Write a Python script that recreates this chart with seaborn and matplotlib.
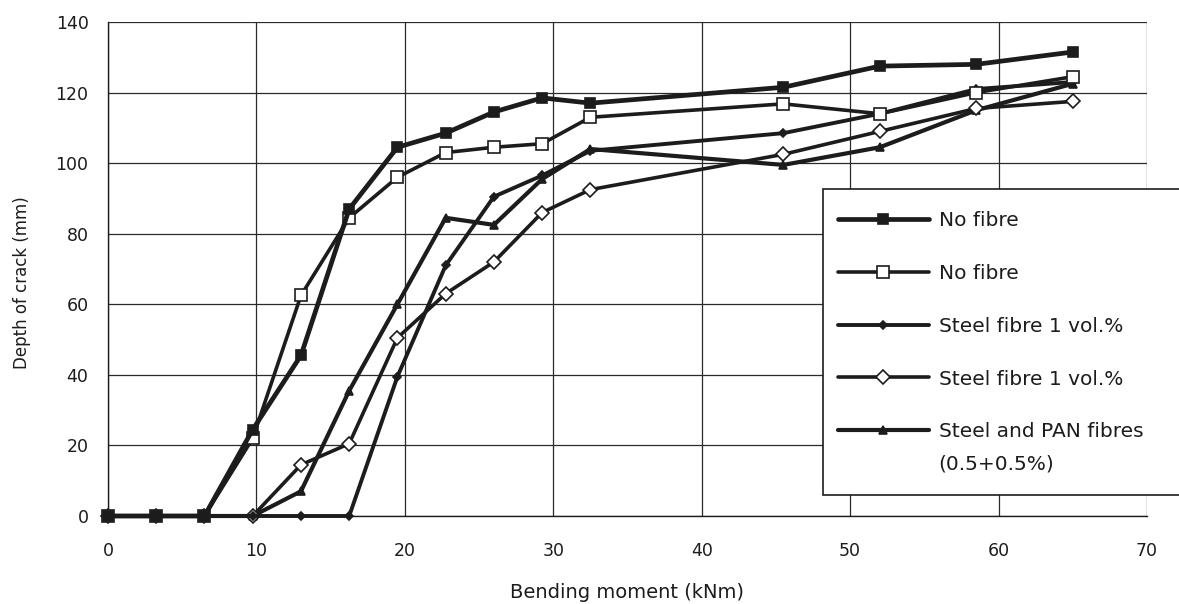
import numpy as np
import pandas as pd
import seaborn as sns
import matplotlib.pyplot as plt
from matplotlib.lines import Line2D
from matplotlib.patches import Rectangle

# Bending moment steps (kNm)
moment = [0, 3.25, 6.5, 9.75, 13, 16.25, 19.5, 22.75, 26, 29.25, 32.5, 45.5, 52, 58.5, 65]

# Depth of crack (mm) for each beam
no_fibre_a = [0, 0, 0, 24.5, 45.5, 87, 104.5, 108.5, 114.5, 118.5, 117, 121.5, 127.5, 128, 131.5]
no_fibre_b = [0, 0, 0, 22, 62.5, 84.5, 96, 103, 104.5, 105.5, 113, 116.8, 114, 120, 124.5]
steel_a = [0, 0, 0, 0, 0, 0, 39.5, 71, 90.5, 96.5, 103.5, 108.5, 114, 121, 123]
steel_b = [0, 0, 0, 0, 14.5, 20.5, 50.5, 63, 72, 86, 92.5, 102.5, 109, 115.5, 117.5]
steel_pan = [0, 0, 0, 0, 7, 35.5, 60, 84.5, 82.5, 95.5, 104, 99.5, 104.5, 115, 122.5]

labels = ["No fibre", "No fibre", "Steel fibre 1 vol.%", "Steel fibre 1 vol.%",
          "Steel and PAN fibres"]
label_extra = "(0.5+0.5%)"

x_ticks = [0, 10, 20, 30, 40, 50, 60, 70]
y_ticks = [0, 20, 40, 60, 80, 100, 120, 140]

sns.set_theme(style="white")
plt.rcParams['font.family'] = ['DejaVu Sans']

ink = "#1c1c1c"
W, H = 1179, 604
fig = plt.figure(figsize=(W / 100, H / 100), dpi=100)
ax = fig.add_axes([108 / W, 88 / H, (1147 - 108) / W, (516 - 22) / H])

styles = [
    dict(marker="s", markersize=7, markerfacecolor=ink, lw=3.4),
    dict(marker="s", markersize=9, markerfacecolor="white", lw=2.6),
    dict(marker="D", markersize=4, markerfacecolor=ink, lw=2.8),
    dict(marker="D", markersize=7, markerfacecolor="white", lw=2.6),
    dict(marker="^", markersize=6, markerfacecolor=ink, lw=3.0),
]
series = [no_fibre_a, no_fibre_b, steel_a, steel_b, steel_pan]

df = pd.DataFrame({"moment": moment})
for i, vals in enumerate(series):
    df[f"s{i}"] = vals

handles = []
for i, st in enumerate(styles):
    sns.lineplot(data=df, x="moment", y=f"s{i}", ax=ax, color=ink,
                 markeredgecolor=ink, markeredgewidth=1.2, clip_on=False,
                 legend=False, zorder=3 + (4 - i) * 0.1, **st)
    handles.append(Line2D([], [], color=ink, markeredgecolor=ink,
                          markeredgewidth=1.2, **st))

ax.set_xlim(0, 70)
ax.set_ylim(0, 140)
ax.set_xticks(x_ticks)
ax.set_yticks(y_ticks)
ax.grid(True, color="#2a2a2a", lw=0.9)
ax.set_axisbelow(True)
for side in ["top", "right"]:
    ax.spines[side].set_visible(False)
for side in ["left", "bottom"]:
    ax.spines[side].set_color(ink)
    ax.spines[side].set_linewidth(1.0)
ax.tick_params(axis="both", direction="out", length=6, width=0.9, color=ink,
               labelsize=12.5, labelcolor=ink, pad=8)
ax.tick_params(axis="x", pad=13)
ax.set_xlabel("Bending moment (kNm)", fontsize=14, color=ink, labelpad=16)
ax.set_ylabel("Depth of crack (mm)", fontsize=12, color=ink)
ax.yaxis.set_label_coords(-0.074, 0.473)

# Legend box
box = Rectangle((823 / W, 1 - 495 / H), (W - 823 + 10) / W, (495 - 189) / H,
                transform=fig.transFigure, facecolor="white", edgecolor=ink,
                lw=1.2, zorder=6)
fig.patches.append(box)

leg_fs = 14.5
leg = fig.legend(handles, labels, loc="upper left",
                 bbox_to_anchor=(838 / W, 1 - 211 / H), frameon=False,
                 numpoints=1, handlelength=4.5, handletextpad=0.5,
                 labelspacing=1.68, borderpad=0, borderaxespad=0, fontsize=leg_fs)
leg.set_zorder(10)
for t in leg.get_texts():
    t.set_color(ink)

fig.canvas.draw()
bb = leg.get_texts()[-1].get_window_extent()
cy = (bb.y0 + bb.y1) / 2 - 32
fig.text(bb.x0 / W, cy / H, label_extra, fontsize=leg_fs, color=ink,
         va="center", ha="left", zorder=10)

fig.savefig("out.png", dpi=100)
